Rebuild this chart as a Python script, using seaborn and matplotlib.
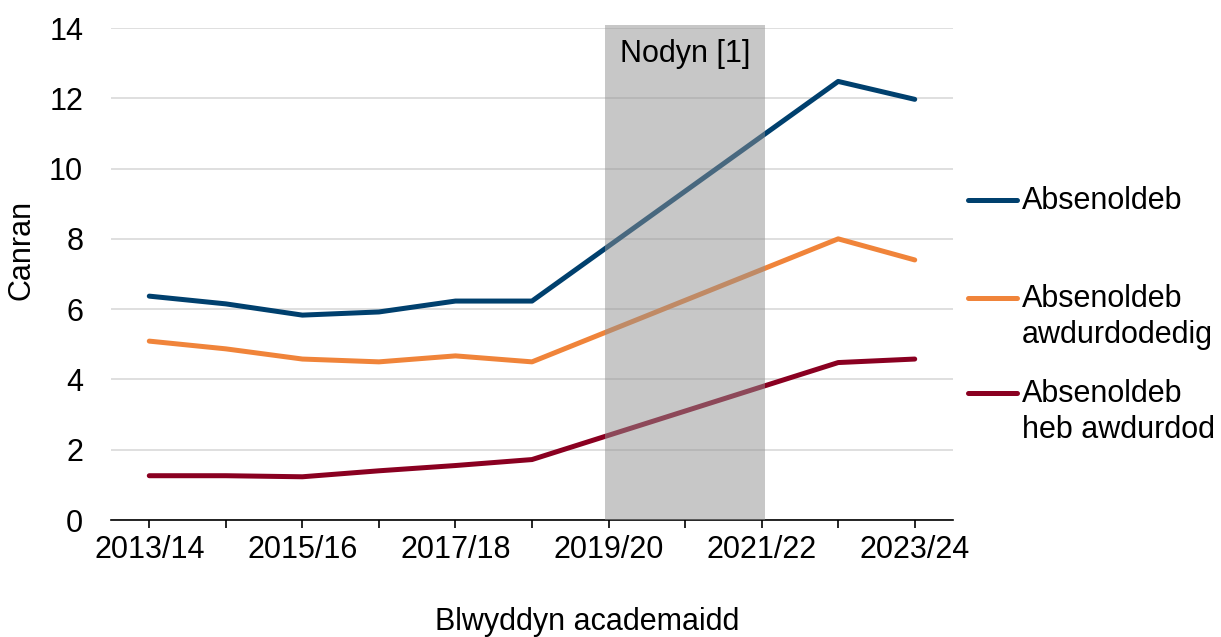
import numpy as np
import pandas as pd
import matplotlib.pyplot as plt
from matplotlib.lines import Line2D
import seaborn as sns

years = ["2013/14", "2014/15", "2015/16", "2016/17", "2017/18", "2018/19",
         "2019/20", "2020/21", "2021/22", "2022/23", "2023/24"]
absenoldeb = [6.37, 6.15, 5.83, 5.92, 6.23, 6.23, np.nan, np.nan, np.nan, 12.48, 11.97]
awdurdodedig = [5.09, 4.87, 4.58, 4.50, 4.67, 4.50, np.nan, np.nan, np.nan, 8.00, 7.40]
heb_awdurdod = [1.26, 1.26, 1.23, 1.40, 1.55, 1.72, np.nan, np.nan, np.nan, 4.48, 4.58]
series_names = ["Absenoldeb", "Absenoldeb\nawdurdodedig", "Absenoldeb\nheb awdurdod"]
colors = ["#00406E", "#F0843A", "#8A0021"]
tick_labels = ["2013/14", "", "2015/16", "", "2017/18", "", "2019/20", "", "2021/22", "", "2023/24"]
note_start, note_end = "2019/20", "2021/22"

sns.set_theme(style="white")
plt.rcParams['font.family'] = ['Liberation Sans', 'DejaVu Sans']
plt.rcParams['text.color'] = 'black'
plt.rcParams['axes.labelcolor'] = 'black'
plt.rcParams['xtick.color'] = 'black'
plt.rcParams['ytick.color'] = 'black'

df = pd.DataFrame({
    "pos": list(range(len(years))) * 3,
    "value": absenoldeb + awdurdodedig + heb_awdurdod,
    "series": [s for s in series_names for _ in years],
}).dropna()

W, H = 1221, 637
fig = plt.figure(figsize=(W / 100, H / 100), dpi=100)
ax = fig.add_axes([111 / W, 1 - 520 / H, (953 - 111) / W, (520 - 28) / H])

sns.lineplot(data=df, x="pos", y="value", hue="series", hue_order=series_names,
             palette=colors, linewidth=3.6, ax=ax, legend=False)

x0, x1 = years.index(note_start), years.index(note_end)
ax.axvspan(x0 - 0.05, x1 + 0.04, ymin=0, ymax=1.006, color=(0.57, 0.57, 0.57), alpha=0.5,
           linewidth=0, zorder=5, clip_on=False)
ax.text((x0 + x1) / 2, 13.25, "Nodyn [1]", ha="center", va="center", fontsize=22, zorder=6)

ax.set_xlim(-0.5, len(years) - 0.5)
ax.set_ylim(0, 14)
ax.set_yticks(range(0, 15, 2))
ax.set_xticks(range(len(years)))
ax.set_xticklabels(tick_labels)
ax.tick_params(axis="x", length=6, width=1.2, direction="out",
               labelsize=22, pad=5, bottom=True)
ax.tick_params(axis="y", length=0, labelsize=22, pad=20)
ax.yaxis.grid(True, color="#d9d9d9", linewidth=1.2)
ax.set_axisbelow(True)
for s in ["top", "right", "left"]:
    ax.spines[s].set_visible(False)
ax.spines["bottom"].set_color("black")
ax.spines["bottom"].set_linewidth(1.2)

ax.set_xlabel("Blwyddyn academaidd", fontsize=22, va="center")
ax.xaxis.set_label_coords((587 - 111) / 842, (520 - 622) / 492)
ax.set_ylabel("Canran", fontsize=22, va="center", ha="center")
ax.yaxis.set_label_coords((22 - 111) / 842, (520 - 250) / 492)

# legend: handle aligned with the first line of each label
legend_rows = [200, 298, 393]
for name, col, row in zip(series_names, colors, legend_rows):
    y = 1 - row / H
    fig.add_artist(Line2D([968 / W, 1017 / W], [y, y], color=col, linewidth=3.6,
                          solid_capstyle="round"))
    fig.text(1022 / W, 1 - (row - 14) / H, name, ha="left", va="top", fontsize=22,
             linespacing=1.25)

fig.savefig("out.png", dpi=100)
